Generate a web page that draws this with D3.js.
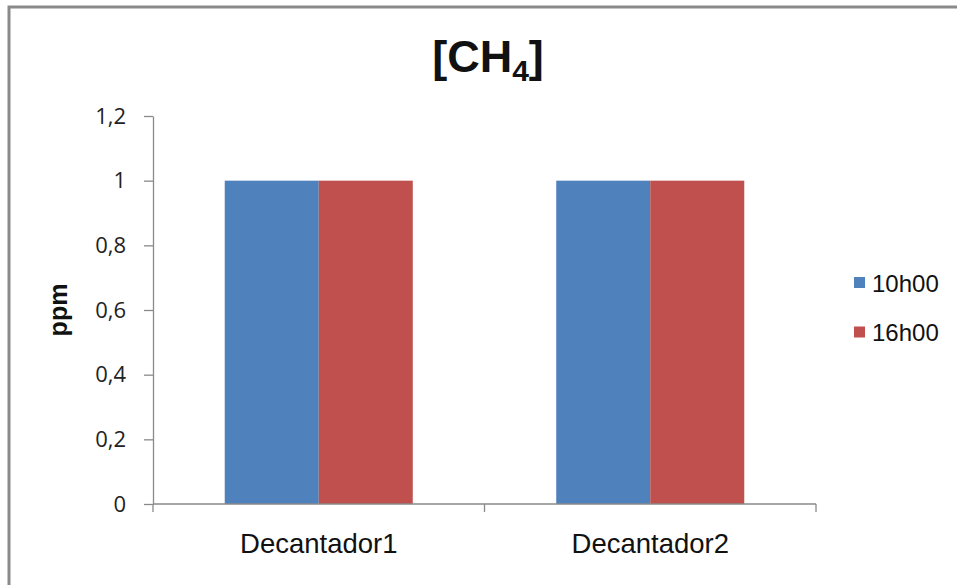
<!DOCTYPE html>
<html>
<head>
<meta charset="utf-8">
<script src="https://cdn.jsdelivr.net/npm/d3@7"></script>
<style>
  body { margin: 0; background: #fff; }
  svg { display: block; }
</style>
</head>
<body>
<div id="chart"></div>
<script>
const width = 957;
const height = 585;

// data
const categories = ["Decantador1", "Decantador2"];
const seriesNames = ["10h00", "16h00"];
const values10h00 = [1, 1];
const values16h00 = [1, 1];
const yTicks = [0, 0.2, 0.4, 0.6, 0.8, 1, 1.2];
const colors = ["#4f81bd", "#c0504d"];

const margin = { top: 116, right: 141, bottom: 81, left: 153 };

const svg = d3.select("#chart")
    .append("svg")
    .attr("width", width)
    .attr("height", height);

// outer frame of the chart, runs past the right and bottom edge
svg.append("rect")
    .attr("x", 9)
    .attr("y", 7)
    .attr("width", width + 20)
    .attr("height", height + 20)
    .attr("fill", "none")
    .attr("stroke", "#8a8a8a")
    .attr("stroke-width", 3);

const x = d3.scaleBand()
    .domain(categories)
    .range([margin.left, width - margin.right]);

const xSub = d3.scaleBand()
    .domain(seriesNames)
    .range([0, x.bandwidth()])
    .paddingOuter(0.763);

const y = d3.scaleLinear()
    .domain([0, 1.2])
    .range([height - margin.bottom, margin.top]);

const locale = d3.formatLocale({ decimal: ",", thousands: ".", grouping: [3], currency: ["", ""] });
const fmt = locale.format(".1~f");

// y axis
const yAxis = svg.append("g")
    .attr("transform", `translate(${margin.left},0)`)
    .call(d3.axisLeft(y).tickValues(yTicks).tickFormat(fmt).tickSize(9).tickSizeOuter(0).tickPadding(18));
yAxis.select(".domain").attr("stroke", "#8a8a8a").attr("stroke-width", 1.3);
yAxis.selectAll(".tick line").attr("stroke", "#8a8a8a").attr("stroke-width", 1.3);
yAxis.selectAll(".tick text")
    .attr("fill", "#222")
    .style("font-family", "'Open Sans', sans-serif")
    .style("font-size", "22px");

// bars
const rows = categories.map((c, i) => ({ cat: c, vals: [values10h00[i], values16h00[i]] }));

svg.selectAll("g.cat")
    .data(rows)
    .enter()
    .append("g")
    .attr("class", "cat")
    .attr("transform", d => `translate(${x(d.cat)},0)`)
    .selectAll("rect")
    .data(d => d.vals.map((v, j) => ({ name: seriesNames[j], value: v, color: colors[j] })))
    .enter()
    .append("rect")
    .attr("x", d => xSub(d.name))
    .attr("width", xSub.bandwidth())
    .attr("y", d => y(d.value))
    .attr("height", d => y(0) - y(d.value))
    .attr("fill", d => d.color);

// x axis
const x0 = y(0);
svg.append("line")
    .attr("x1", x.range()[0])
    .attr("x2", x.range()[1])
    .attr("y1", x0)
    .attr("y2", x0)
    .attr("stroke", "#8a8a8a")
    .attr("stroke-width", 1.3);

const bounds = d3.range(categories.length + 1).map(i => x.range()[0] + i * x.step());
svg.selectAll("line.xtick")
    .data(bounds)
    .enter()
    .append("line")
    .attr("class", "xtick")
    .attr("x1", d => d)
    .attr("x2", d => d)
    .attr("y1", x0)
    .attr("y2", x0 + 8)
    .attr("stroke", "#8a8a8a")
    .attr("stroke-width", 1.3);

svg.selectAll("text.cat")
    .data(categories)
    .enter()
    .append("text")
    .attr("class", "cat")
    .attr("x", d => x(d) + x.bandwidth() / 2)
    .attr("y", x0 + 49)
    .attr("text-anchor", "middle")
    .style("font-family", "'Liberation Sans', Arial, sans-serif")
    .style("font-size", "27.5px")
    .attr("fill", "#111")
    .text(d => d);

// y axis title
svg.append("text")
    .attr("transform", `translate(67,${(y(0) + y(1.2)) / 2}) rotate(-90)`)
    .attr("text-anchor", "middle")
    .style("font-family", "'Liberation Sans', Arial, sans-serif")
    .style("font-size", "25px")
    .style("font-weight", "bold")
    .attr("fill", "#111")
    .text("ppm");

// title with subscript
const title = svg.append("text")
    .attr("x", 488)
    .attr("y", 72)
    .attr("text-anchor", "middle")
    .style("font-family", "'Liberation Sans', Arial, sans-serif")
    .style("font-size", "45px")
    .style("font-weight", "bold")
    .attr("fill", "#111");
title.append("tspan").text("[CH");
title.append("tspan").attr("dy", 9).style("font-size", "30px").text("4");
title.append("tspan").attr("dy", -9).text("]");

// legend
const legend = svg.selectAll("g.legend")
    .data(seriesNames)
    .enter()
    .append("g")
    .attr("class", "legend")
    .attr("transform", (d, i) => `translate(854,${277 + i * 49.5})`);

legend.append("rect")
    .attr("width", 11)
    .attr("height", 11)
    .attr("fill", (d, i) => colors[i]);

legend.append("text")
    .attr("x", 18)
    .attr("y", 14.5)
    .style("font-family", "'Liberation Sans', Arial, sans-serif")
    .style("font-size", "24px")
    .attr("fill", "#111")
    .text(d => d);
</script>
</body>
</html>
